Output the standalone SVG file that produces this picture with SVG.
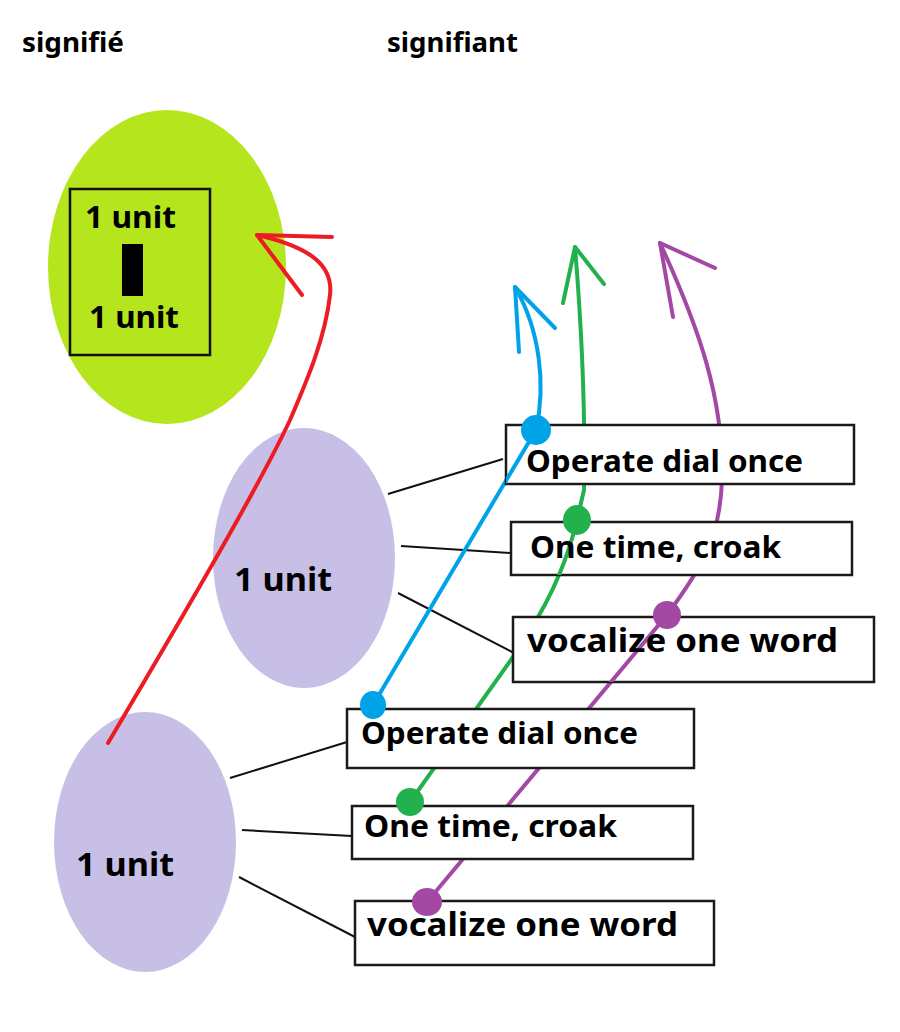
<svg xmlns="http://www.w3.org/2000/svg" xmlns:xlink="http://www.w3.org/1999/xlink" width="900" height="1032" viewBox="0 0 900 1032">
<style>
text{font-family:"Noto Sans","Liberation Sans",sans-serif;font-weight:bold;fill:#000}
.box{fill:#fff;stroke:#1a1a1a;stroke-width:2.5}
.lnk{stroke:#111;stroke-width:2;fill:none}
.red{stroke:#ed1c24;stroke-width:4;fill:none;stroke-linecap:round;stroke-linejoin:round}
.blue{stroke:#00a2e8;stroke-width:4;fill:none;stroke-linecap:round;stroke-linejoin:round}
.grn{stroke:#22b14c;stroke-width:4;fill:none;stroke-linecap:round;stroke-linejoin:round}
.pur{stroke:#a349a4;stroke-width:4;fill:none;stroke-linecap:round;stroke-linejoin:round}
.unit{fill:#c8bfe7}
</style>
<defs>
<path id="blueLow" d="M373,705 L536,430"/>
<path id="grnLow" d="M577,520 C565,570 545,610 513,657 L410,802"/>
<path id="purLow" d="M667,615 L427,902"/>
<clipPath id="cA1"><rect x="506" y="425" width="348" height="59"/></clipPath>
<clipPath id="cB1"><rect x="511" y="522" width="341" height="53"/></clipPath>
<clipPath id="cC1"><rect x="513" y="617" width="361" height="65"/></clipPath>
</defs>
<rect width="900" height="1032" fill="#fff"/>

<g id="titles">
<text x="22" y="52" font-size="27" textLength="102" lengthAdjust="spacingAndGlyphs">signifié</text>
<text x="387" y="52" font-size="27" textLength="131" lengthAdjust="spacingAndGlyphs">signifiant</text>
</g>

<g id="signifie">
<ellipse cx="167" cy="267" rx="119" ry="157" fill="#b5e61d"/>
<rect x="70" y="189" width="140" height="166" fill="none" stroke="#111" stroke-width="2.5"/>
<text x="85" y="228" font-size="31" textLength="91" lengthAdjust="spacingAndGlyphs">1 unit</text>
<rect x="122" y="244" width="21" height="52" fill="#000"/>
<text x="89" y="328" font-size="31" textLength="90" lengthAdjust="spacingAndGlyphs">1 unit</text>
</g>

<g id="unit1">
<ellipse class="unit" cx="304" cy="558" rx="91" ry="130"/>
<text x="234" y="591" font-size="32" textLength="98" lengthAdjust="spacingAndGlyphs">1 unit</text>
</g>
<g id="unit2">
<ellipse class="unit" cx="145" cy="842" rx="91" ry="130"/>
<text x="76" y="876" font-size="32" textLength="98" lengthAdjust="spacingAndGlyphs">1 unit</text>
</g>

<g id="connectors">
<line class="lnk" x1="388" y1="494" x2="503" y2="459"/>
<line class="lnk" x1="401" y1="546" x2="510" y2="553"/>
<line class="lnk" x1="398" y1="593" x2="514" y2="653"/>
<line class="lnk" x1="230" y1="778" x2="347" y2="742"/>
<line class="lnk" x1="242" y1="830" x2="352" y2="836"/>
<line class="lnk" x1="239" y1="877" x2="355" y2="937"/>
<path class="red" d="M108,743 C160,655 255,495 290,420 C305,385 325,340 330,295 C333,268 315,248 257,235"/>
<path class="red" d="M332,237 L257,235 L302,295"/>
<use href="#blueLow" class="blue"/>
<path class="blue" d="M536,430 C546,385 540,330 515,287"/>
<path class="blue" d="M519,352 L515,287 L555,328"/>
<path class="grn" d="M575,247 Q586,380 584,490 L577,520"/>
<use href="#grnLow" class="grn"/>
<path class="grn" d="M563,303 L575,247 L604,284"/>
<path class="pur" d="M660,243 C700,330 724,400 722,480 C720,540 700,570 667,615"/>
<use href="#purLow" class="pur"/>
<path class="pur" d="M673,317 L660,243 L715,268"/>
</g>

<g id="boxA1"><rect class="box" x="506" y="425" width="348" height="59"/></g>
<g id="boxB1"><rect class="box" x="511" y="522" width="341" height="53"/></g>
<g id="boxC1"><rect class="box" x="513" y="617" width="361" height="65"/></g>
<g id="boxA2"><rect class="box" x="347" y="709" width="347" height="59"/></g>
<g id="boxB2"><rect class="box" x="352" y="806" width="341" height="53"/></g>
<g id="boxC2"><rect class="box" x="355" y="901" width="359" height="64"/></g>

<g id="overlays">
<use href="#blueLow" class="blue" clip-path="url(#cA1)"/>
<use href="#grnLow" class="grn" clip-path="url(#cB1)"/>
<use href="#purLow" class="pur" clip-path="url(#cC1)"/>
<ellipse cx="536" cy="430" rx="15" ry="15" fill="#00a2e8"/>
<ellipse cx="373" cy="705" rx="13" ry="14" fill="#00a2e8"/>
<ellipse cx="577" cy="520" rx="14" ry="15" fill="#22b14c"/>
<ellipse cx="410" cy="802" rx="14" ry="14" fill="#22b14c"/>
<ellipse cx="667" cy="615" rx="14" ry="14" fill="#a349a4"/>
<ellipse cx="427" cy="902" rx="15" ry="14" fill="#a349a4"/>
</g>

<g id="labels">
<text x="526" y="472" font-size="31" textLength="277" lengthAdjust="spacingAndGlyphs">Operate dial once</text>
<text x="530" y="558" font-size="30" textLength="251" lengthAdjust="spacingAndGlyphs">One time, croak</text>
<text x="527" y="652" font-size="33" textLength="311" lengthAdjust="spacingAndGlyphs">vocalize one word</text>
<text x="361" y="744" font-size="31" textLength="277" lengthAdjust="spacingAndGlyphs">Operate dial once</text>
<text x="364" y="837" font-size="30" textLength="253" lengthAdjust="spacingAndGlyphs">One time, croak</text>
<text x="367" y="936" font-size="33" textLength="311" lengthAdjust="spacingAndGlyphs">vocalize one word</text>
</g>
</svg>
